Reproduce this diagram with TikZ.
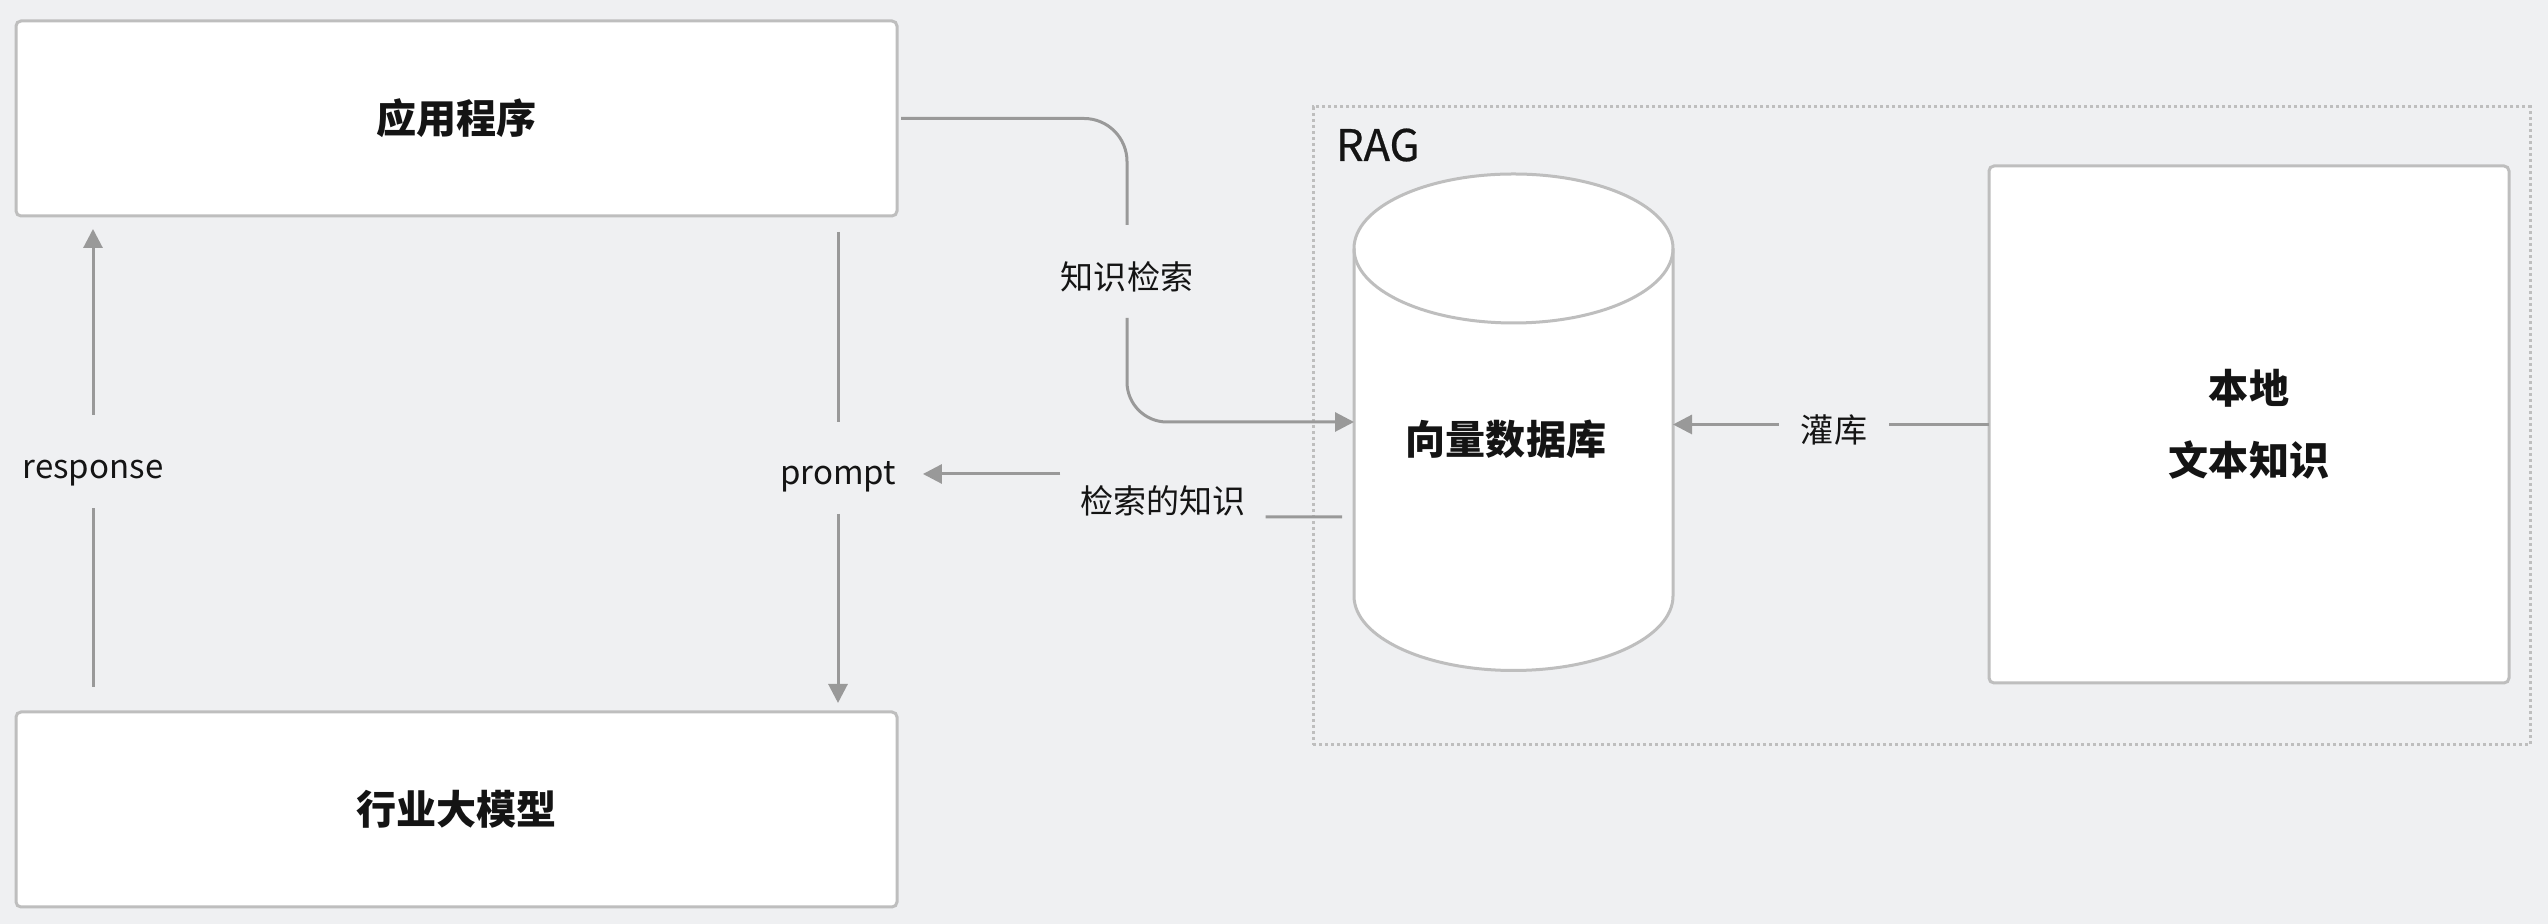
\documentclass[tikz,border=0pt]{standalone}
\usepackage{fontspec}
\setmainfont{Noto Sans CJK SC}
\newfontfamily\ragfont[FakeBold=0.5]{Noto Sans CJK SC}
\usetikzlibrary{arrows.meta}

\definecolor{ragbg}{RGB}{239,240,242}
\definecolor{ragbox}{RGB}{190,190,190}
\definecolor{ragline}{RGB}{153,153,153}
\definecolor{ragtext}{RGB}{20,20,20}

\begin{document}
\begin{tikzpicture}[
  x=1cm,
  y=1cm,
  every node/.style={inner sep=0pt, outer sep=0pt},
  flowtext/.style={font=\fontsize{9.4}{11}\selectfont, text=ragtext, align=center},
  title/.style={font=\bfseries\fontsize{11.4}{20.5}\selectfont, text=ragtext, align=center},
  block/.style={draw=ragbox, fill=white, rounded corners=0.05cm, line width=0.3mm},
  frame/.style={draw=ragbox, line width=0.3mm, dash pattern=on 0.3mm off 0.3mm},
  dbshape/.style={draw=ragbox, fill=white, line width=0.3mm},
  plain/.style={draw=ragline, line width=0.3mm},
  flow/.style={draw=ragline, line width=0.3mm, -{Triangle[length=1.9mm,width=1.9mm]}}
]

  \fill[ragbg] (0,0) rectangle (25.48,9.24);
  \path[use as bounding box] (0,0) rectangle (25.48,9.24);

  % Application and model
  \node[block, title, minimum width=8.81cm, minimum height=1.95cm] (app) at (4.565,8.055) {应用程序};
  \node[block, title, minimum width=8.81cm, minimum height=1.95cm] (llm) at (4.565,1.145) {行业大模型};

  % response
  \node[flowtext] (resp) at (0.93,4.51) {response};
  \draw[plain] ([yshift=0.25cm]resp |- llm.north) -- ([yshift=-0.35cm]resp.center);
  \draw[flow] ([yshift=0.58cm]resp.center) -- ([yshift=-0.13cm]resp |- app.south);

  % prompt
  \node[flowtext, inner xsep=0.27cm] (prompt) at (8.38,4.47) {prompt};
  \draw[plain] ([yshift=-0.16cm]prompt |- app.south) -- ([yshift=0.55cm]prompt.center);
  \draw[flow] ([yshift=-0.37cm]prompt.center) -- ([yshift=0.09cm]prompt |- llm.north);

  % RAG frame
  \node[frame, minimum width=12.17cm, minimum height=6.38cm] (rag) at (19.215,4.98) {};
  \node[font=\ragfont\fontsize{12.4}{14}\selectfont, text=ragtext, anchor=base west] (ragname) at (13.36,7.63) {RAG};

  % Vector database
  \node[minimum width=3.19cm, minimum height=4.96cm] (db) at (15.135,5.02) {};
  \draw[dbshape] (13.54,6.755) -- (13.54,3.28)
    arc[start angle=180, end angle=360, x radius=1.595, y radius=0.745]
    -- (16.73,6.755)
    arc[start angle=0, end angle=180, x radius=1.595, y radius=0.745] -- cycle;
  \draw[dbshape, fill=none] (13.54,6.755) arc[start angle=180, end angle=360, x radius=1.595, y radius=0.745];
  \node[title] (dbname) at (15.06,4.85) {向量数据库};

  % Local text knowledge
  \node[block, title, minimum width=5.20cm, minimum height=5.17cm] (src) at (22.49,4.995) {本地\\文本知识};

  \node[flowtext, inner xsep=0.22cm] (load) at (18.34,4.94) {灌库};
  \draw[plain] (src.west) -- (load.east |- src.west);
  \draw[flow] (load.west |- src.west) -- (db.east |- src.west);

  % Retrieval
  \node[flowtext] (query) at (11.27,6.47) {知识检索};
  \draw[plain, rounded corners=0.43cm] ([xshift=0.04cm]app.east) -| ([yshift=0.52cm]query.center);
  \draw[flow, rounded corners=0.40cm] ([yshift=-0.41cm]query.center) |- (db.west);

  \node[flowtext, inner xsep=0.2cm] (found) at (11.63,4.23) {检索的知识};
  \draw[plain] ([shift={(-0.12,-0.95)}]db.west) -- ([yshift=-0.16cm]found.east);
  \draw[flow] ([yshift=0.27cm]found.west) -- ([yshift=0.03cm]prompt.east);

\end{tikzpicture}
\end{document}
